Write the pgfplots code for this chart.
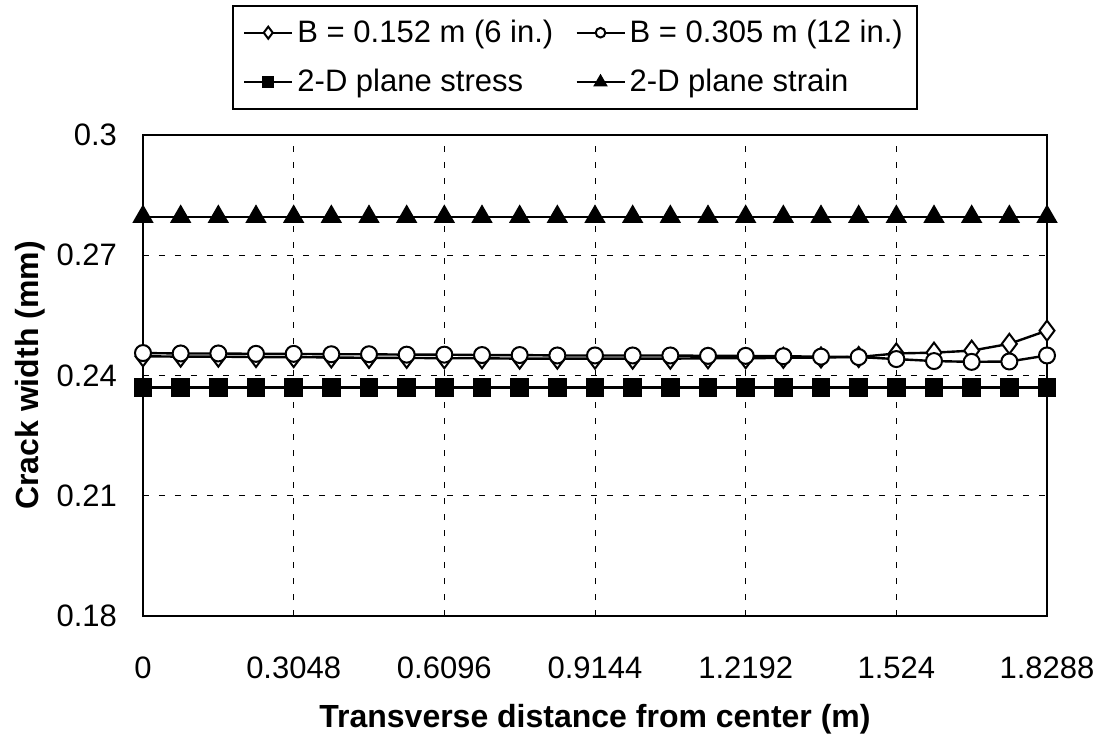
\documentclass[border=0pt]{standalone}
\usepackage{pgfplots}
\pgfplotsset{compat=1.18}
\usepackage{fontspec}
\setmainfont{Liberation Sans}
\begin{document}
\begin{tikzpicture}
\useasboundingbox (-71.5pt,-61pt) rectangle (479pt,308pt);
\begin{axis}[
  at={(0,0)}, anchor=south west,
  scale only axis, width=452pt, height=240.5pt,
  xmin=0, xmax=1.8288, ymin=0.18, ymax=0.3,
  xtick={0,0.3048,0.6096,0.9144,1.2192,1.524,1.8288},
  xticklabels={0,0.3048,0.6096,0.9144,1.2192,1.524,1.8288},
  ytick={0.18,0.21,0.24,0.27,0.3},
  yticklabels={0.18,0.21,0.24,0.27,0.3},
  tick style={draw=none},
  grid=major,
  major grid style={black, line width=0.5pt, dash pattern=on 3pt off 5pt},
  axis line style={line width=1.3pt},
  ticklabel style={font=\fontsize{15.5}{18}\selectfont},
  xticklabel style={yshift=-17pt},
  yticklabel style={xshift=-9.5pt},
  xlabel={\textbf{Transverse distance from center (m)}},
  ylabel={\textbf{Crack width (mm)}},
  label style={font=\fontsize{16}{19}\selectfont},
  xlabel style={yshift=-6pt},
  ylabel style={yshift=-1pt},
  legend columns=2,
  legend style={at={(0.0985,1.2703)}, anchor=north west, draw=black, line width=1pt,
    font=\fontsize{15.5}{19}\selectfont, inner sep=5pt, row sep=8pt,
    /tikz/every even column/.append style={column sep=9pt},
    cells={anchor=west}},
  legend image code/.code={\draw[mark repeat=2,mark phase=2,/tikz/every mark/.append style={scale=0.6}] plot coordinates {(0pt,0pt)(12pt,0pt)(24pt,0pt)};},
  every axis plot/.append style={black, line width=1.2pt},
  clip=false,
]
\addplot[mark=diamond*, mark options={fill=white, line width=1pt}, mark size=5pt] coordinates {
(0,0.2448)(0.0762,0.2447)(0.1524,0.2447)(0.2286,0.2446)(0.3048,0.2446)(0.381,0.2445)(0.4572,0.2444)(0.5334,0.2444)(0.6096,0.2443)(0.6858,0.2443)(0.762,0.2442)(0.8382,0.2442)(0.9144,0.2442)(0.9906,0.2442)(1.0668,0.2442)(1.143,0.2443)(1.2192,0.2443)(1.2954,0.2444)(1.3716,0.2445)(1.4478,0.2446)(1.524,0.2455)(1.6002,0.2457)(1.6764,0.2462)(1.7526,0.2479)(1.8288,0.2512)};
\addlegendentry{B = 0.152 m (6 in.)}
\addplot[mark=*, mark options={fill=white, line width=1pt}, mark size=4pt] coordinates {
(0,0.2456)(0.0762,0.2455)(0.1524,0.2455)(0.2286,0.2454)(0.3048,0.2454)(0.381,0.2453)(0.4572,0.2453)(0.5334,0.2452)(0.6096,0.2452)(0.6858,0.2451)(0.762,0.2451)(0.8382,0.2450)(0.9144,0.2450)(0.9906,0.2450)(1.0668,0.2450)(1.143,0.2449)(1.2192,0.2449)(1.2954,0.2448)(1.3716,0.2447)(1.4478,0.2446)(1.524,0.2441)(1.6002,0.2436)(1.6764,0.2434)(1.7526,0.2435)(1.8288,0.2450)};
\addlegendentry{B = 0.305 m (12 in.)}
\addplot[mark=square*, mark options={fill=black}, mark size=4pt] coordinates {
(0,0.237)(0.0762,0.237)(0.1524,0.237)(0.2286,0.237)(0.3048,0.237)(0.381,0.237)(0.4572,0.237)(0.5334,0.237)(0.6096,0.237)(0.6858,0.237)(0.762,0.237)(0.8382,0.237)(0.9144,0.237)(0.9906,0.237)(1.0668,0.237)(1.143,0.237)(1.2192,0.237)(1.2954,0.237)(1.3716,0.237)(1.4478,0.237)(1.524,0.237)(1.6002,0.237)(1.6764,0.237)(1.7526,0.237)(1.8288,0.237)};
\addlegendentry{2-D plane stress}
\addplot[mark=triangle*, mark options={fill=black}, mark size=5pt] coordinates {
(0,0.2796)(0.0762,0.2796)(0.1524,0.2796)(0.2286,0.2796)(0.3048,0.2796)(0.381,0.2796)(0.4572,0.2796)(0.5334,0.2796)(0.6096,0.2796)(0.6858,0.2796)(0.762,0.2796)(0.8382,0.2796)(0.9144,0.2796)(0.9906,0.2796)(1.0668,0.2796)(1.143,0.2796)(1.2192,0.2796)(1.2954,0.2796)(1.3716,0.2796)(1.4478,0.2796)(1.524,0.2796)(1.6002,0.2796)(1.6764,0.2796)(1.7526,0.2796)(1.8288,0.2796)};
\addlegendentry{2-D plane strain}
\end{axis}
\end{tikzpicture}
\end{document}
